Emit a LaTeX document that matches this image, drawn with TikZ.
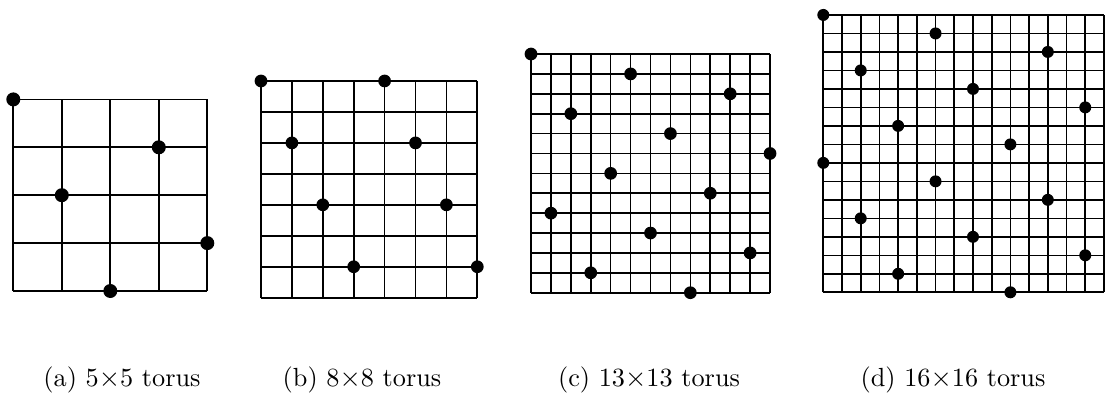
\documentclass[tikz,border=0pt]{standalone}
\usepackage{tikz}

\begin{document}
\begin{tikzpicture}[
  x=0.4pt, y=0.4pt,
  every node/.style={font=\fontsize{10.5}{12}\selectfont},
  gridline/.style={draw=black, line width=0.65pt},
  dot/.style={circle, fill=black, inner sep=0pt, minimum size=5.1pt},
  caption/.style={anchor=base, inner sep=0pt}
]
\useasboundingbox (0,0) rectangle (1108,395);

% (a) 5x5 torus
\begin{scope}[shift={(13.3,104)}, xscale=48.5, yscale=47.9, dot/.append style={minimum size=5.6pt}]
  \foreach \i in {0,...,4} {
    \draw[gridline] (\i,0) -- (\i,4);
    \draw[gridline] (0,\i) -- (4,\i);
  }
  \foreach \c/\r in {0/0, 3/1, 1/2, 4/3, 2/4}
    \node[dot] at (\c,4-\r) {};
\end{scope}

% (b) 8x8 torus
\begin{scope}[shift={(261,97.3)}, xscale=30.9, yscale=30.96]
  \foreach \i in {0,...,7} {
    \draw[gridline] (\i,0) -- (\i,7);
    \draw[gridline] (0,\i) -- (7,\i);
  }
  \foreach \c/\r in {0/0, 4/0, 1/2, 5/2, 2/4, 6/4, 3/6, 7/6}
    \node[dot] at (\c,7-\r) {};
\end{scope}

% (c) 13x13 torus
\begin{scope}[shift={(531,102.3)}, xscale=19.92, yscale=19.89]
  \foreach \i in {0,...,12} {
    \draw[gridline] (\i,0) -- (\i,12);
    \draw[gridline] (0,\i) -- (12,\i);
  }
  \foreach \c/\r in {0/0, 5/1, 10/2, 2/3, 7/4, 12/5, 4/6, 9/7, 1/8, 6/9, 11/10, 3/11, 8/12}
    \node[dot] at (\c,12-\r) {};
\end{scope}

% (d) 16x16 torus
\begin{scope}[shift={(823.3,102.7)}, xscale=18.71, yscale=18.49, dot/.append style={minimum size=4.8pt}]
  \foreach \i in {0,...,15} {
    \draw[gridline] (\i,0) -- (\i,15);
    \draw[gridline] (0,\i) -- (15,\i);
  }
  \foreach \c/\r in {0/0, 6/1, 12/2, 2/3, 8/4, 14/5, 4/6, 10/7, 0/8, 6/9, 12/10, 2/11, 8/12, 14/13, 4/14, 10/15}
    \node[dot] at (\c,15-\r) {};
\end{scope}

% Captions
\node[caption] (cap-a) at (122,9)   {(a) 5$\times$5 torus};
\node[caption] (cap-b) at (362,9)   {(b) 8$\times$8 torus};
\node[caption] (cap-c) at (649,9)   {(c) 13$\times$13 torus};
\node[caption] (cap-d) at (953,9)   {(d) 16$\times$16 torus};

\end{tikzpicture}
\end{document}
